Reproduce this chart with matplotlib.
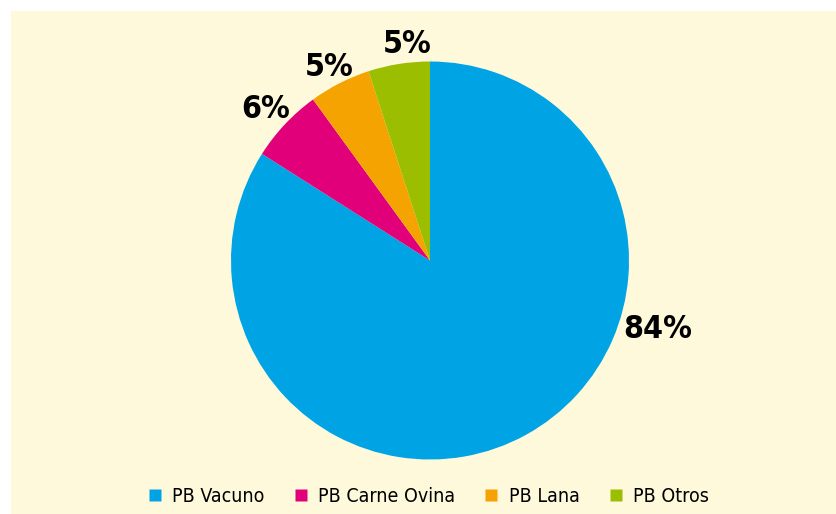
import numpy as np
import matplotlib
matplotlib.use("Agg")
import matplotlib.pyplot as plt
from matplotlib.patches import Rectangle
from matplotlib.lines import Line2D

# data
categories = ["PB Vacuno", "PB Carne Ovina", "PB Lana", "PB Otros"]
shares = [84, 6, 5, 5]
colors = ["#00a3e4", "#e2007a", "#f5a300", "#9bbf00"]

# label placement (angle in degrees, distance in radii)
label_angle = [-17, 137.5, 117.5, 96]
label_dist = [1.194, 1.12, 1.093, 1.09]

FONT = ["Liberation Sans Narrow", "DejaVu Sans"]
W, H = 836, 514

fig = plt.figure(figsize=(W / 100, H / 100), dpi=100)
fig.patch.set_facecolor("white")

# cream panel
fig.add_artist(Rectangle((11 / W, 0), 1 - 11 / W, 1 - 11 / H,
                         transform=fig.transFigure, facecolor="#fff9dc",
                         edgecolor="none", zorder=0))

cx, cy, r = 430, 253.5, 199
ax = fig.add_axes([(cx - r) / W, (cy - r) / H, 2 * r / W, 2 * r / H])
ax.set_facecolor("none")
wedges, _ = ax.pie(shares, colors=colors, startangle=90, counterclock=False,
                   wedgeprops=dict(linewidth=0))
ax.set_xlim(-1, 1)
ax.set_ylim(-1, 1)
ax.set_aspect("equal")

# percentage labels
for s, a, d in zip(shares, label_angle, label_dist):
    t = np.deg2rad(a)
    ax.text(d * np.cos(t), d * np.sin(t), f"{s}%",
            ha="center", va="center", fontsize=23, fontweight="bold",
            fontstretch="condensed", family=FONT, color="black")

handles = [Line2D([], [], linestyle="none", marker="s", markersize=9,
                  markerfacecolor=c, markeredgecolor="none") for c in colors]
fig.legend(handles, categories, loc="center", bbox_to_anchor=(428 / W, 1 - 496 / H),
           ncol=4, frameon=False,
           prop=dict(family=FONT, size=14, stretch="condensed"),
           handlelength=0.8, handletextpad=0.5, columnspacing=1.45)

fig.savefig("out.png", dpi=100, facecolor=fig.get_facecolor())
